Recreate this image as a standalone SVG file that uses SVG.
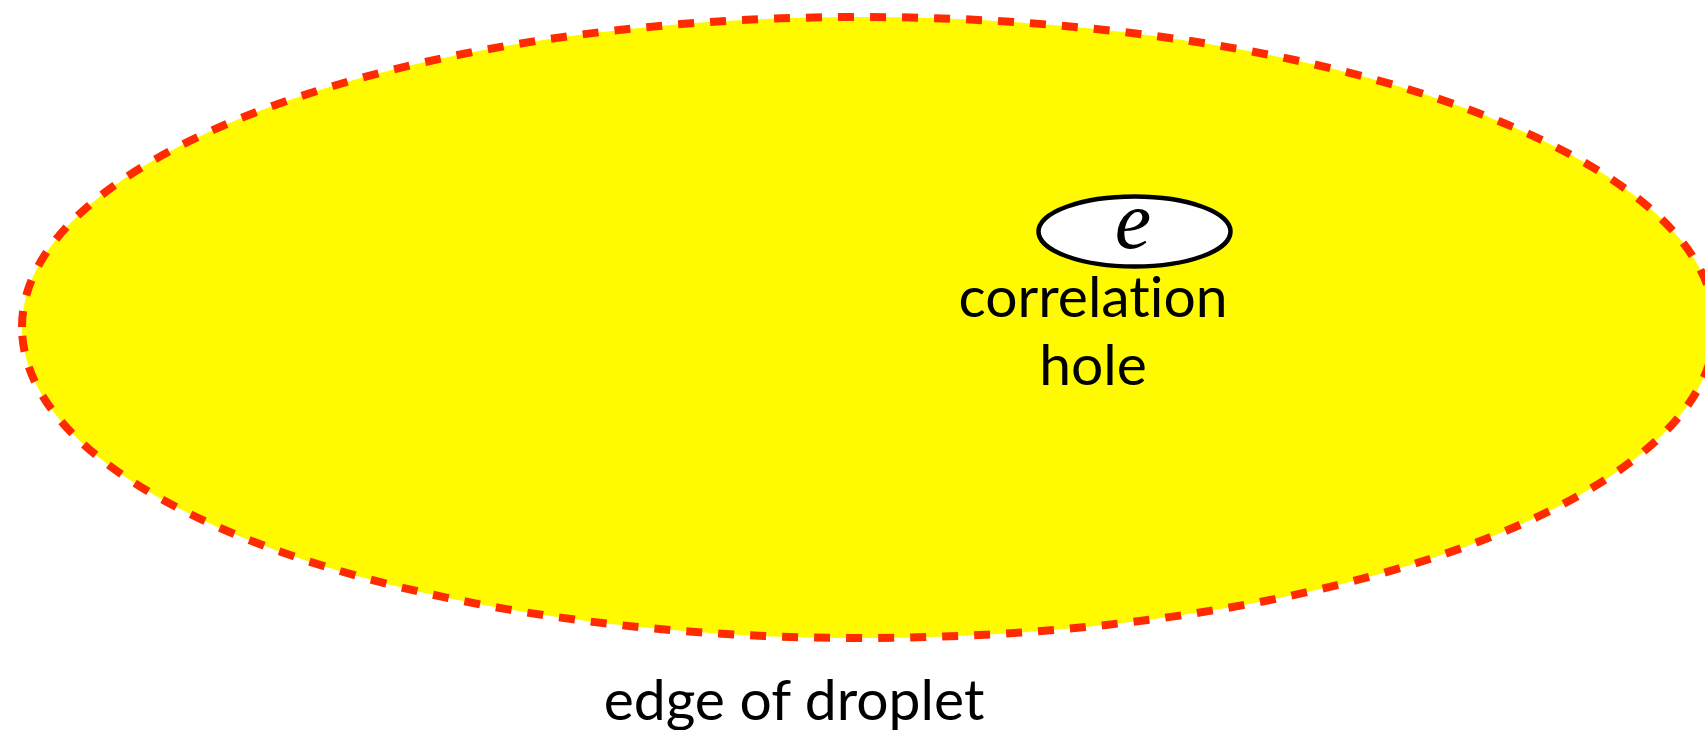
<svg xmlns="http://www.w3.org/2000/svg" width="1705" height="730" viewBox="0 0 1705 730">
<style>
.lbl{font-family:Lato,"Open Sans",sans-serif;font-size:57px;fill:#000;text-anchor:middle;font-variant-ligatures:none;font-feature-settings:"liga" 0}
.drop{fill:#fffa00;stroke:#ff2a00;stroke-width:8;stroke-dasharray:16 16}
.hole{fill:#fff;stroke:#000;stroke-width:4.5}
.math{font-family:"Liberation Serif","DejaVu Serif",serif;font-style:italic;font-size:82px;fill:#000;text-anchor:middle}
</style>
<rect width="1705" height="730" fill="#fff"/>
<g id="droplet">
<path class="drop" d="M22 327 C22 156 397 17 860 17 C1332 17 1715 156 1715 327 C1715 499 1332 638 860 638 C397 638 22 499 22 327 Z"/>
<text class="lbl" x="794" y="720">edge of droplet</text>
</g>
<g id="electron">
<ellipse class="hole" cx="1134.5" cy="231.5" rx="96" ry="35"/>
<text class="math" x="1133" y="248">e</text>
<text class="lbl" x="1093" y="317">correlation</text>
<text class="lbl" x="1093" y="385">hole</text>
</g>
<g id="connectors"/>
</svg>
